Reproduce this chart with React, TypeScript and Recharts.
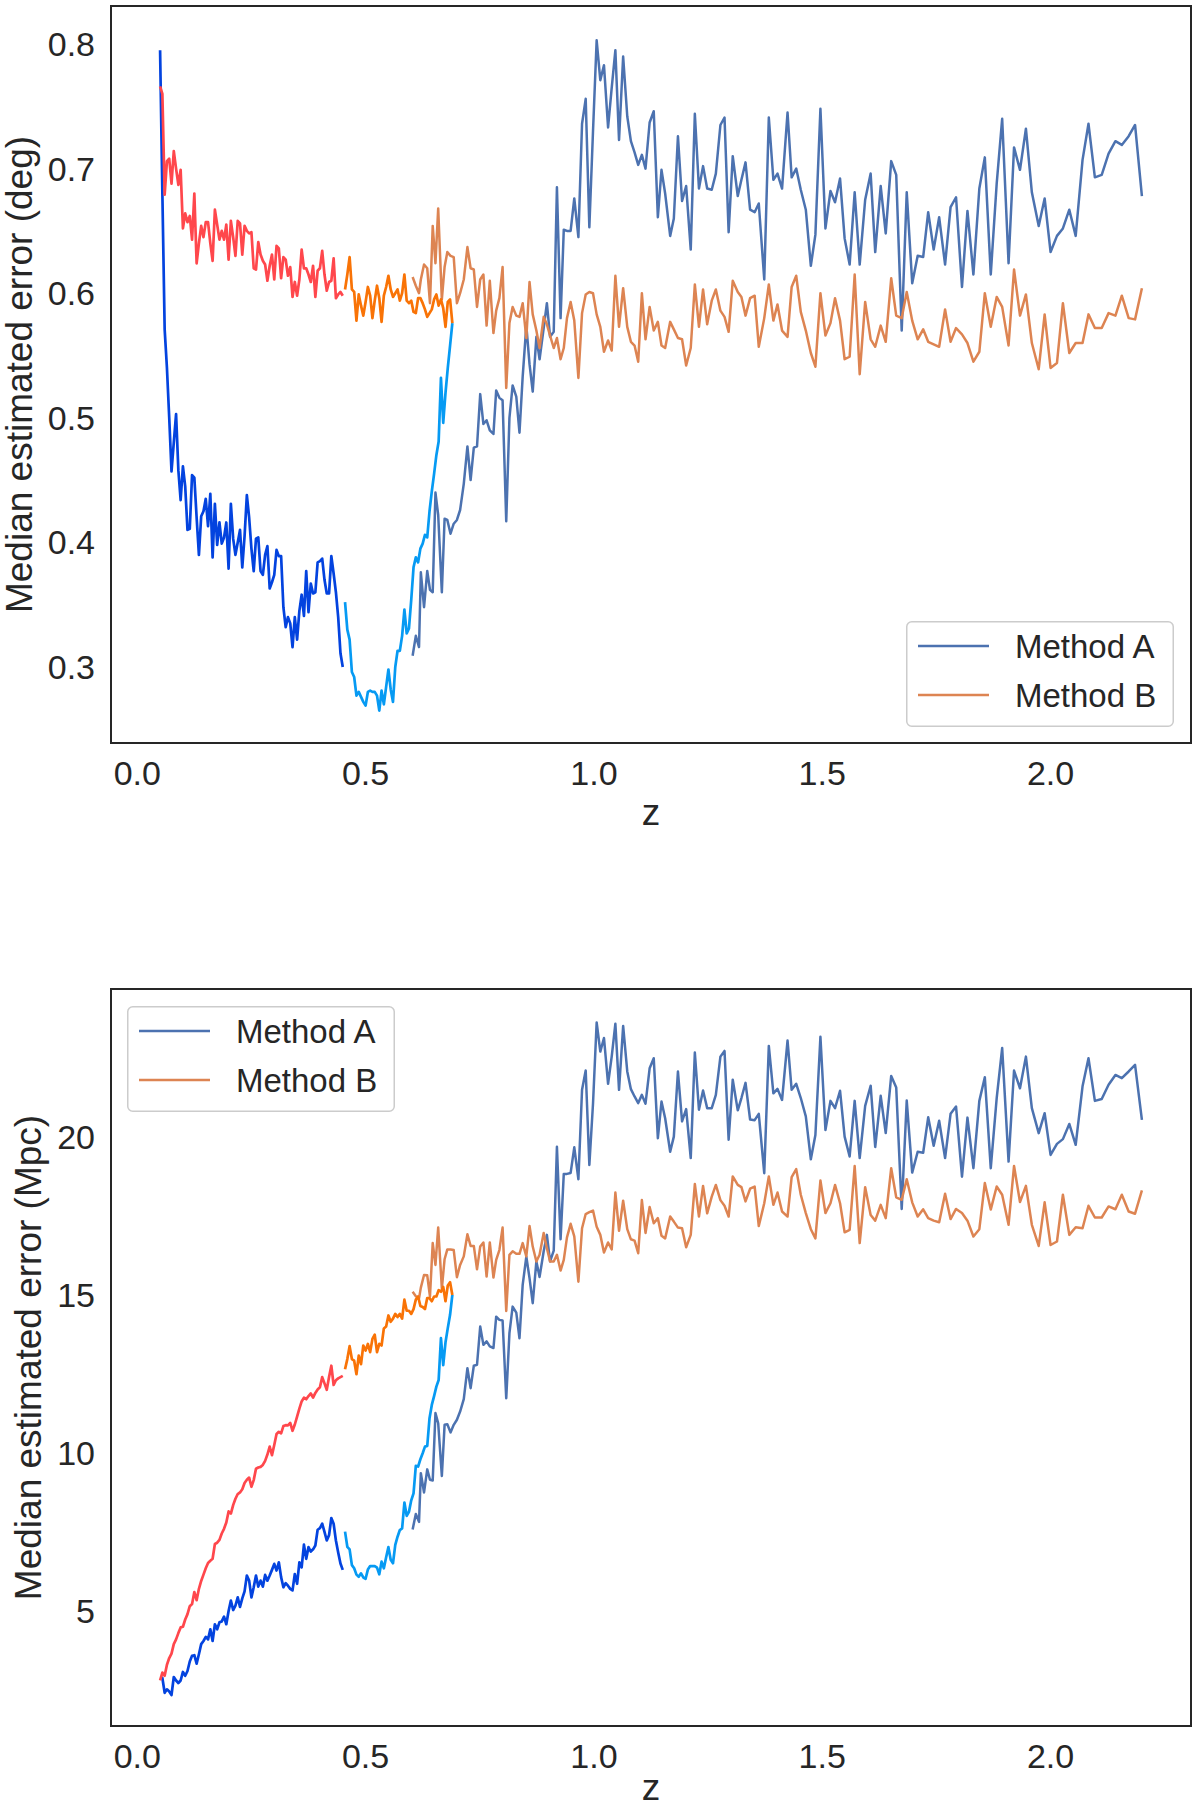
import React from 'react';
import { LineChart, Line, XAxis, YAxis, ReferenceArea } from 'recharts';

// ---------- redshift grids (shared by every series) ----------
const Z_SEG1 = [
  0.050, 0.055, 0.060, 0.065, 0.070, 0.075, 0.080, 0.085, 0.090, 0.095,
  0.100, 0.105, 0.110, 0.115, 0.120, 0.125, 0.130, 0.135, 0.140, 0.145,
  0.150, 0.155, 0.160, 0.165, 0.170, 0.175, 0.180, 0.185, 0.190, 0.195,
  0.200, 0.205, 0.210, 0.215, 0.220, 0.225, 0.230, 0.235, 0.240, 0.245,
  0.250, 0.255, 0.260, 0.265, 0.270, 0.275, 0.280, 0.285, 0.290, 0.295,
  0.300, 0.305, 0.310, 0.315, 0.320, 0.325, 0.330, 0.335, 0.340, 0.345,
  0.350, 0.355, 0.360, 0.365, 0.370, 0.375, 0.380, 0.385, 0.390, 0.395,
  0.400, 0.405, 0.410, 0.415, 0.420, 0.425, 0.430, 0.435, 0.440, 0.445,
  0.450,
];

const Z_SEG2 = [
  0.455, 0.460, 0.465, 0.470, 0.475, 0.480, 0.485, 0.490, 0.495, 0.500,
  0.505, 0.510, 0.515, 0.520, 0.525, 0.530, 0.535, 0.540, 0.545, 0.550,
  0.555, 0.560, 0.565, 0.570, 0.575, 0.580, 0.585, 0.590, 0.595, 0.600,
  0.605, 0.610, 0.615, 0.620, 0.625, 0.630, 0.635, 0.640, 0.645, 0.650,
  0.655, 0.660, 0.665, 0.670, 0.675, 0.680, 0.685, 0.690,
];

const Z_SEG3 = [
  0.603, 0.610, 0.617, 0.621, 0.628, 0.635, 0.641, 0.647, 0.653, 0.659,
  0.667, 0.673, 0.679, 0.686, 0.693, 0.700, 0.707, 0.715, 0.723, 0.730,
  0.737, 0.744, 0.751, 0.758, 0.765, 0.772, 0.780, 0.786, 0.793, 0.800,
  0.808, 0.815, 0.822, 0.830, 0.837, 0.844, 0.852, 0.859, 0.866, 0.874,
  0.881, 0.890, 0.897, 0.904, 0.912, 0.919, 0.927, 0.934, 0.941, 0.949,
  0.957, 0.966, 0.974, 0.982, 0.990, 0.998, 1.006, 1.014, 1.022, 1.031,
  1.039, 1.047, 1.055, 1.064, 1.073, 1.081, 1.089, 1.097, 1.105, 1.113,
  1.122, 1.131, 1.140, 1.148, 1.156, 1.167, 1.175, 1.184, 1.193, 1.202,
  1.212, 1.221, 1.230, 1.239, 1.248, 1.258, 1.267, 1.277, 1.286, 1.295,
  1.304, 1.315, 1.323, 1.332, 1.342, 1.352, 1.361, 1.373, 1.383, 1.393,
  1.402, 1.412, 1.424, 1.433, 1.443, 1.453, 1.464, 1.475, 1.485, 1.496,
  1.507, 1.518, 1.528, 1.539, 1.549, 1.560, 1.571, 1.582, 1.594, 1.606,
  1.616, 1.628, 1.639, 1.651, 1.662, 1.674, 1.685, 1.697, 1.709, 1.721,
  1.732, 1.744, 1.756, 1.769, 1.781, 1.793, 1.806, 1.818, 1.831, 1.844,
  1.856, 1.869, 1.882, 1.894, 1.908, 1.920, 1.933, 1.946, 1.959, 1.974,
  1.987, 2.000, 2.014, 2.027, 2.041, 2.055, 2.070, 2.083, 2.097, 2.112,
  2.127, 2.142, 2.156, 2.171, 2.185, 2.200,
];

// ---------- top panel: median estimated error (deg) ----------
const DEG_A_SEG1 = [
  0.795, 0.680, 0.571, 0.540, 0.500, 0.457, 0.480, 0.503, 0.458, 0.434,
  0.461, 0.445, 0.410, 0.411, 0.454, 0.452, 0.420, 0.390, 0.421, 0.425,
  0.435, 0.413, 0.439, 0.388, 0.431, 0.398, 0.416, 0.399, 0.404, 0.416,
  0.379, 0.431, 0.403, 0.390, 0.400, 0.410, 0.380, 0.405, 0.438, 0.420,
  0.395, 0.377, 0.403, 0.404, 0.377, 0.374, 0.390, 0.397, 0.363, 0.368,
  0.374, 0.394, 0.389, 0.389, 0.348, 0.332, 0.340, 0.335, 0.316, 0.340,
  0.322, 0.345, 0.358, 0.341, 0.377, 0.344, 0.367, 0.359, 0.360, 0.384,
  0.385, 0.387, 0.370, 0.359, 0.359, 0.389, 0.375, 0.360, 0.340, 0.311,
  0.300,
];
const DEG_B_SEG1 = [
  0.766, 0.760, 0.679, 0.706, 0.708, 0.688, 0.714, 0.700, 0.687, 0.699,
  0.652, 0.664, 0.657, 0.662, 0.643, 0.680, 0.624, 0.640, 0.654, 0.645,
  0.657, 0.657, 0.640, 0.626, 0.667, 0.655, 0.643, 0.650, 0.643, 0.655,
  0.627, 0.658, 0.645, 0.630, 0.658, 0.656, 0.631, 0.654, 0.650, 0.648,
  0.649, 0.620, 0.619, 0.641, 0.631, 0.626, 0.623, 0.610, 0.622, 0.631,
  0.611, 0.638, 0.636, 0.612, 0.629, 0.627, 0.614, 0.621, 0.597, 0.609,
  0.598, 0.611, 0.635, 0.620, 0.620, 0.615, 0.609, 0.622, 0.597, 0.618,
  0.620, 0.634, 0.615, 0.602, 0.609, 0.610, 0.628, 0.596, 0.599, 0.601,
  0.598,
];
const DEG_A_SEG2 = [
  0.352, 0.330, 0.322, 0.296, 0.292, 0.277, 0.280, 0.276, 0.272, 0.269,
  0.280, 0.281, 0.280, 0.280, 0.277, 0.265, 0.281, 0.270, 0.284, 0.298,
  0.282, 0.272, 0.300, 0.313, 0.313, 0.325, 0.346, 0.327, 0.331, 0.354,
  0.380, 0.388, 0.384, 0.395, 0.399, 0.406, 0.404, 0.425, 0.441, 0.455,
  0.470, 0.481, 0.532, 0.496, 0.520, 0.540, 0.558, 0.576,
];
const DEG_B_SEG2 = [
  0.603, 0.615, 0.629, 0.603, 0.601, 0.578, 0.599, 0.590, 0.582, 0.593,
  0.605, 0.598, 0.580, 0.594, 0.606, 0.596, 0.577, 0.598, 0.605, 0.614,
  0.603, 0.597, 0.600, 0.603, 0.594, 0.600, 0.615, 0.594, 0.592, 0.594,
  0.585, 0.584, 0.596, 0.596, 0.592, 0.587, 0.581, 0.584, 0.587, 0.595,
  0.599, 0.590, 0.595, 0.588, 0.573, 0.593, 0.595, 0.576,
];
const DEG_A_SEG3 = [
  0.309, 0.325, 0.316, 0.376, 0.348, 0.377, 0.362, 0.360, 0.440, 0.422,
  0.360, 0.419, 0.418, 0.407, 0.415, 0.418, 0.426, 0.447, 0.477, 0.450,
  0.476, 0.477, 0.519, 0.495, 0.498, 0.490, 0.487, 0.522, 0.516, 0.514,
  0.417, 0.500, 0.526, 0.517, 0.488, 0.533, 0.574, 0.543, 0.521, 0.565,
  0.547, 0.572, 0.592, 0.565, 0.569, 0.685, 0.580, 0.651, 0.650, 0.650,
  0.676, 0.645, 0.736, 0.756, 0.653, 0.730, 0.803, 0.771, 0.783, 0.733,
  0.765, 0.795, 0.723, 0.790, 0.742, 0.722, 0.713, 0.703, 0.711, 0.700,
  0.737, 0.746, 0.661, 0.699, 0.680, 0.646, 0.660, 0.726, 0.674, 0.686,
  0.635, 0.744, 0.684, 0.702, 0.684, 0.683, 0.696, 0.735, 0.741, 0.649,
  0.710, 0.678, 0.691, 0.705, 0.667, 0.665, 0.672, 0.611, 0.741, 0.691,
  0.696, 0.684, 0.745, 0.693, 0.700, 0.683, 0.667, 0.622, 0.647, 0.748,
  0.652, 0.682, 0.673, 0.692, 0.644, 0.623, 0.681, 0.623, 0.675, 0.696,
  0.633, 0.686, 0.648, 0.706, 0.695, 0.570, 0.681, 0.608, 0.630, 0.629,
  0.665, 0.635, 0.661, 0.623, 0.669, 0.677, 0.605, 0.666, 0.615, 0.684,
  0.709, 0.615, 0.688, 0.740, 0.624, 0.717, 0.699, 0.732, 0.681, 0.654,
  0.676, 0.633, 0.646, 0.652, 0.667, 0.646, 0.707, 0.736, 0.693, 0.695,
  0.712, 0.722, 0.719, 0.726, 0.735, 0.678,
];
const DEG_B_SEG3 = [
  0.613, 0.606, 0.600, 0.611, 0.623, 0.620, 0.592, 0.654, 0.624, 0.668,
  0.595, 0.621, 0.633, 0.630, 0.629, 0.592, 0.600, 0.611, 0.637, 0.620,
  0.619, 0.589, 0.611, 0.615, 0.574, 0.610, 0.568, 0.586, 0.596, 0.621,
  0.524, 0.576, 0.589, 0.582, 0.581, 0.592, 0.564, 0.609, 0.583, 0.570,
  0.556, 0.581, 0.575, 0.566, 0.556, 0.564, 0.547, 0.556, 0.580, 0.593,
  0.578, 0.532, 0.584, 0.599, 0.601, 0.600, 0.583, 0.573, 0.553, 0.562,
  0.554, 0.614, 0.573, 0.604, 0.573, 0.561, 0.558, 0.545, 0.600, 0.563,
  0.589, 0.570, 0.577, 0.558, 0.556, 0.577, 0.571, 0.564, 0.563, 0.542,
  0.556, 0.607, 0.573, 0.603, 0.575, 0.594, 0.603, 0.586, 0.581, 0.569,
  0.610, 0.601, 0.597, 0.582, 0.596, 0.598, 0.557, 0.580, 0.607, 0.578,
  0.591, 0.570, 0.565, 0.605, 0.614, 0.585, 0.570, 0.552, 0.541, 0.600,
  0.566, 0.576, 0.596, 0.578, 0.547, 0.549, 0.615, 0.535, 0.593, 0.563,
  0.557, 0.574, 0.561, 0.612, 0.582, 0.580, 0.601, 0.578, 0.563, 0.571,
  0.561, 0.559, 0.557, 0.587, 0.561, 0.572, 0.567, 0.560, 0.545, 0.553,
  0.600, 0.573, 0.597, 0.589, 0.558, 0.619, 0.582, 0.599, 0.560, 0.539,
  0.583, 0.540, 0.544, 0.592, 0.552, 0.560, 0.560, 0.583, 0.572, 0.572,
  0.584, 0.582, 0.598, 0.580, 0.579, 0.604,
];

// ---------- bottom panel: median estimated error (Mpc) ----------
const MPC_A_SEG1 = [
  2.89, 2.88, 2.41, 2.52, 2.45, 2.34, 2.91, 2.80, 2.72, 2.80,
  3.07, 2.95, 3.10, 3.40, 3.58, 3.60, 3.33, 3.63, 3.95, 4.05,
  4.18, 4.10, 4.42, 4.05, 4.58, 4.42, 4.64, 4.67, 4.82, 4.58,
  5.00, 5.33, 5.03, 5.17, 5.43, 5.13, 5.40, 5.62, 6.12, 5.96,
  5.43, 5.75, 6.12, 5.77, 5.96, 5.77, 6.14, 5.96, 6.12, 6.30,
  6.49, 6.28, 6.54, 6.07, 5.75, 5.88, 5.80, 5.70, 5.65, 6.17,
  5.86, 6.54, 6.38, 7.10, 6.65, 7.02, 6.88, 6.95, 7.07, 7.57,
  7.62, 7.76, 7.50, 7.23, 7.40, 7.94, 7.76, 7.23, 6.85, 6.50,
  6.30,
];
const MPC_B_SEG1 = [
  2.80, 3.05, 2.95, 3.30, 3.51, 3.65, 3.95, 4.10, 4.30, 4.48,
  4.50, 4.73, 4.90, 5.15, 5.22, 5.60, 5.34, 5.70, 5.95, 6.15,
  6.35, 6.52, 6.59, 6.65, 7.12, 7.16, 7.25, 7.45, 7.60, 7.80,
  8.15, 8.08, 8.35, 8.55, 8.70, 8.75, 8.85, 9.05, 9.15, 9.22,
  8.93, 9.14, 9.50, 9.54, 9.56, 9.62, 9.75, 9.95, 10.20, 9.93,
  10.25, 10.60, 10.67, 10.62, 10.85, 10.88, 10.87, 10.95, 10.70, 10.90,
  11.15, 11.40, 11.63, 11.75, 11.70, 11.80, 11.88, 11.75, 11.90, 12.01,
  12.08, 12.40, 12.20, 12.00, 12.40, 12.76, 12.15, 12.30, 12.36, 12.40,
  12.44,
];
const MPC_A_SEG2 = [
  7.51, 7.03, 6.95, 6.45, 6.35, 6.15, 6.08, 6.19, 6.06, 6.02,
  6.31, 6.42, 6.42, 6.42, 6.37, 6.16, 6.56, 6.35, 6.70, 7.02,
  6.62, 6.51, 7.09, 7.35, 7.56, 7.61, 8.43, 8.01, 8.14, 8.50,
  8.72, 9.59, 9.57, 9.80, 9.99, 10.20, 10.22, 11.10, 11.52, 11.80,
  12.10, 12.31, 13.63, 12.78, 13.50, 13.95, 14.37, 15.00,
];
const MPC_B_SEG2 = [
  12.65, 12.97, 13.38, 12.97, 12.92, 12.49, 13.08, 12.81, 13.40, 13.24,
  13.45, 13.19, 13.61, 13.74, 13.19, 13.45, 13.40, 13.94, 14.00, 14.35,
  14.15, 14.25, 14.40, 14.30, 14.40, 14.25, 14.85, 14.50, 14.50, 14.40,
  14.55, 14.85, 14.95, 14.65, 14.62, 14.55, 14.90, 14.90, 14.80, 14.95,
  14.95, 15.15, 15.10, 15.25, 14.80, 15.30, 15.40, 15.00,
];
const MPC_A_SEG3 = [
  7.58, 8.07, 7.82, 9.36, 8.75, 9.48, 9.15, 9.13, 11.26, 10.94,
  9.27, 10.89, 10.91, 10.65, 10.89, 11.05, 11.31, 11.70, 12.68, 12.05,
  12.76, 12.79, 14.00, 13.42, 13.53, 13.37, 13.32, 14.31, 14.21, 14.19,
  11.73, 13.79, 14.63, 14.44, 13.63, 15.32, 16.21, 15.53, 14.74, 16.06,
  15.57, 16.38, 16.90, 16.06, 16.40, 19.69, 16.76, 18.83, 18.83, 18.86,
  19.67, 18.66, 21.49, 22.10, 19.11, 21.05, 23.62, 22.70, 23.13, 21.68,
  22.55, 23.58, 21.49, 23.51, 22.07, 21.51, 21.28, 21.07, 21.33, 21.05,
  22.17, 22.49, 19.96, 21.12, 20.59, 19.53, 20.01, 22.07, 20.49, 20.88,
  19.33, 22.67, 20.86, 21.47, 20.91, 20.91, 21.33, 22.54, 22.72, 19.91,
  21.81, 20.84, 21.23, 21.71, 20.55, 20.53, 20.73, 18.85, 22.88, 21.38,
  21.52, 21.17, 23.05, 21.49, 21.68, 21.23, 20.65, 19.29, 20.06, 23.17,
  20.22, 21.14, 20.91, 21.46, 20.01, 19.38, 21.14, 19.33, 20.98, 21.62,
  19.68, 21.30, 20.12, 21.93, 21.56, 17.72, 21.15, 18.87, 19.53, 19.50,
  20.62, 19.72, 20.51, 19.33, 20.73, 20.96, 18.74, 20.61, 19.01, 21.14,
  21.89, 19.01, 21.23, 22.81, 19.22, 22.10, 21.54, 22.54, 20.91, 20.12,
  20.75, 19.43, 19.78, 19.93, 20.41, 19.75, 21.60, 22.49, 21.14, 21.20,
  21.65, 21.96, 21.86, 22.07, 22.28, 20.54,
];
const MPC_B_SEG3 = [
  15.10, 14.96, 14.89, 15.23, 15.63, 15.62, 14.95, 16.64, 15.95, 17.13,
  15.21, 16.13, 16.44, 16.44, 16.42, 15.56, 15.95, 16.22, 16.92, 16.55,
  16.55, 15.81, 16.53, 16.66, 15.58, 16.66, 15.55, 16.11, 16.42, 17.13,
  14.49, 16.27, 16.38, 16.30, 16.30, 16.64, 16.22, 17.18, 16.53, 16.06,
  16.27, 16.96, 16.48, 16.06, 16.06, 16.27, 15.77, 16.11, 16.82, 17.25,
  16.85, 15.42, 17.11, 17.56, 17.62, 17.67, 17.16, 16.90, 16.34, 16.66,
  16.44, 18.24, 17.03, 17.98, 17.08, 16.76, 16.72, 16.32, 18.00, 16.96,
  17.78, 17.27, 17.43, 16.87, 16.79, 17.48, 17.32, 17.13, 17.11, 16.51,
  16.90, 18.51, 17.48, 18.45, 17.58, 18.11, 18.48, 18.00, 17.82, 17.48,
  18.75, 18.48, 18.41, 17.96, 18.36, 18.43, 17.18, 17.90, 18.75, 17.85,
  18.24, 17.64, 17.48, 18.73, 18.98, 18.17, 17.59, 17.08, 16.79, 18.62,
  17.59, 17.90, 18.48, 17.90, 16.98, 17.06, 19.08, 16.64, 18.41, 17.53,
  17.35, 17.85, 17.43, 19.01, 18.09, 18.01, 18.66, 17.93, 17.48, 17.71,
  17.43, 17.35, 17.30, 18.20, 17.40, 17.72, 17.59, 17.35, 16.85, 17.08,
  18.54, 17.70, 18.43, 18.17, 17.22, 19.08, 17.94, 18.45, 17.22, 16.55,
  17.93, 16.58, 16.69, 18.17, 16.90, 17.14, 17.11, 17.82, 17.45, 17.45,
  17.80, 17.71, 18.17, 17.64, 17.57, 18.31,
];

// ---------- axes ----------
const X_TICKS = [0, 0.5, 1.0, 1.5, 2.0];
const X_DOMAIN = [-0.0575, 2.3075];
const DEG_TICKS = [0.3, 0.4, 0.5, 0.6, 0.7, 0.8];
const DEG_DOMAIN = [0.239, 0.8305];
const MPC_TICKS = [5, 10, 15, 20];
const MPC_DOMAIN = [1.36, 24.68];
const LEGEND_LABELS = ['Method A', 'Method B'];

// ---------- style ----------
const FONT = '"Liberation Sans", Arial, "DejaVu Sans", sans-serif';
const INK = '#262626';
const SNS_BLUE = '#4c72b0';
const SNS_ORANGE = '#dd8452';
const DARK_BLUE = '#0343df';
const AZURE = '#069af3';
const LIGHT_RED = '#ff474c';
const BRIGHT_ORANGE = '#f97306';

const pts = (zs: number[], vs: number[]) => zs.map((z, i) => ({ z, v: vs[i] }));

type PanelProps = {
  top: number;
  height: number;
  marginTop: number;
  xAxisHeight: number;
  yDomain: number[];
  yTicks: number[];
  yFmt: (v: number) => string;
  yLabel: string;
  yLabelX: number;
  xLabelBaseline: number;
  a: number[][];
  b: number[][];
  legend: { left: number; top: number };
};

function Legend2({ left, top }: { left: number; top: number }) {
  const w = 268;
  const h = 106;
  const rows = [
    { label: LEGEND_LABELS[0], color: SNS_BLUE, y: 25 },
    { label: LEGEND_LABELS[1], color: SNS_ORANGE, y: 74 },
  ];
  return (
    <svg
      width={w}
      height={h}
      style={{ position: 'absolute', left, top, overflow: 'visible' }}
    >
      <rect x={0.75} y={0.75} width={w - 1.5} height={h - 1.5} rx={5} ry={5}
        fill="rgba(255,255,255,0.8)" stroke="#cccccc" strokeWidth={1.5} />
      {rows.map((r) => (
        <g key={r.label}>
          <line x1={12} x2={83} y1={r.y} y2={r.y} stroke={r.color} strokeWidth={2.5} />
          <text x={109} y={r.y + 11.8} fontSize={33} fontFamily={FONT} fill={INK}>
            {r.label}
          </text>
        </g>
      ))}
    </svg>
  );
}

function Panel(p: PanelProps) {
  const plotTop = p.marginTop;
  const plotBottom = p.height - p.xAxisHeight;
  const yMid = (plotTop + plotBottom) / 2;
  const segColorsA = [DARK_BLUE, AZURE, SNS_BLUE];
  const segColorsB = [LIGHT_RED, BRIGHT_ORANGE, SNS_ORANGE];
  const zs = [Z_SEG1, Z_SEG2, Z_SEG3];
  const order = [2, 0, 1];
  return (
    <div style={{ position: 'absolute', left: 0, top: p.top, width: 1200, height: p.height }}>
      <LineChart
        width={1200}
        height={p.height}
        margin={{ top: p.marginTop, right: 9, bottom: 0, left: 0 }}
      >
        <XAxis
          dataKey="z"
          type="number"
          domain={X_DOMAIN}
          ticks={X_TICKS}
          allowDataOverflow
          height={p.xAxisHeight}
          tickFormatter={(v: number) => v.toFixed(1)}
          tick={{ fill: INK, fontSize: 34, fontFamily: FONT }}
          tickLine={false}
          axisLine={false}
          tickSize={6}
          tickMargin={12}
          label={{
            content: () => (
              <text x={651} y={p.xLabelBaseline} textAnchor="middle" fontSize={37}
                fontFamily={FONT} fill={INK}>z</text>
            ),
          }}
        />
        <YAxis
          dataKey="v"
          type="number"
          domain={p.yDomain}
          ticks={p.yTicks}
          allowDataOverflow
          width={111}
          tickFormatter={p.yFmt}
          tick={{ fill: INK, fontSize: 34, fontFamily: FONT }}
          tickLine={false}
          axisLine={false}
          tickSize={6}
          tickMargin={10}
          label={{
            content: () => (
              <text x={p.yLabelX} y={yMid} textAnchor="middle" fontSize={37}
                fontFamily={FONT} fill={INK}
                transform={`rotate(-90 ${p.yLabelX} ${yMid})`}>{p.yLabel}</text>
            ),
          }}
        />
        {order.map((k) => (
          <Line
            key={`a${k}`}
            data={pts(zs[k], p.a[k])}
            dataKey="v"
            type="linear"
            stroke={segColorsA[k]}
            strokeWidth={k === 2 ? 2.5 : 2.7}
            dot={false}
            activeDot={false}
            strokeLinejoin="round"
            isAnimationActive={false}
          />
        ))}
        {order.map((k) => (
          <Line
            key={`b${k}`}
            data={pts(zs[k], p.b[k])}
            dataKey="v"
            type="linear"
            stroke={segColorsB[k]}
            strokeWidth={k === 2 ? 2.5 : 2.7}
            dot={false}
            activeDot={false}
            strokeLinejoin="round"
            isAnimationActive={false}
          />
        ))}
        <ReferenceArea
          x1={X_DOMAIN[0]}
          x2={X_DOMAIN[1]}
          y1={p.yDomain[0]}
          y2={p.yDomain[1]}
          fill="none"
          fillOpacity={0}
          stroke={INK}
          strokeWidth={2}
          ifOverflow="visible"
        />
      </LineChart>
      <Legend2 left={p.legend.left} top={p.legend.top - p.top} />
    </div>
  );
}

export default function App() {
  return (
    <div
      style={{
        position: 'absolute',
        left: 0,
        top: 0,
        width: 1200,
        height: 1811,
        background: '#ffffff',
        overflow: 'hidden',
      }}
    >
      <Panel
        top={0}
        height={860}
        marginTop={6}
        xAxisHeight={117}
        yDomain={DEG_DOMAIN}
        yTicks={DEG_TICKS}
        yFmt={(v: number) => v.toFixed(1)}
        yLabel="Median estimated error (deg)"
        yLabelX={32}
        xLabelBaseline={825}
        a={[DEG_A_SEG1, DEG_A_SEG2, DEG_A_SEG3]}
        b={[DEG_B_SEG1, DEG_B_SEG2, DEG_B_SEG3]}
        legend={{ left: 906, top: 621 }}
      />
      <Panel
        top={980}
        height={831}
        marginTop={9}
        xAxisHeight={85}
        yDomain={MPC_DOMAIN}
        yTicks={MPC_TICKS}
        yFmt={(v: number) => String(v)}
        yLabel="Median estimated error (Mpc)"
        yLabelX={41}
        xLabelBaseline={820}
        a={[MPC_A_SEG1, MPC_A_SEG2, MPC_A_SEG3]}
        b={[MPC_B_SEG1, MPC_B_SEG2, MPC_B_SEG3]}
        legend={{ left: 127, top: 1006 }}
      />
    </div>
  );
}
